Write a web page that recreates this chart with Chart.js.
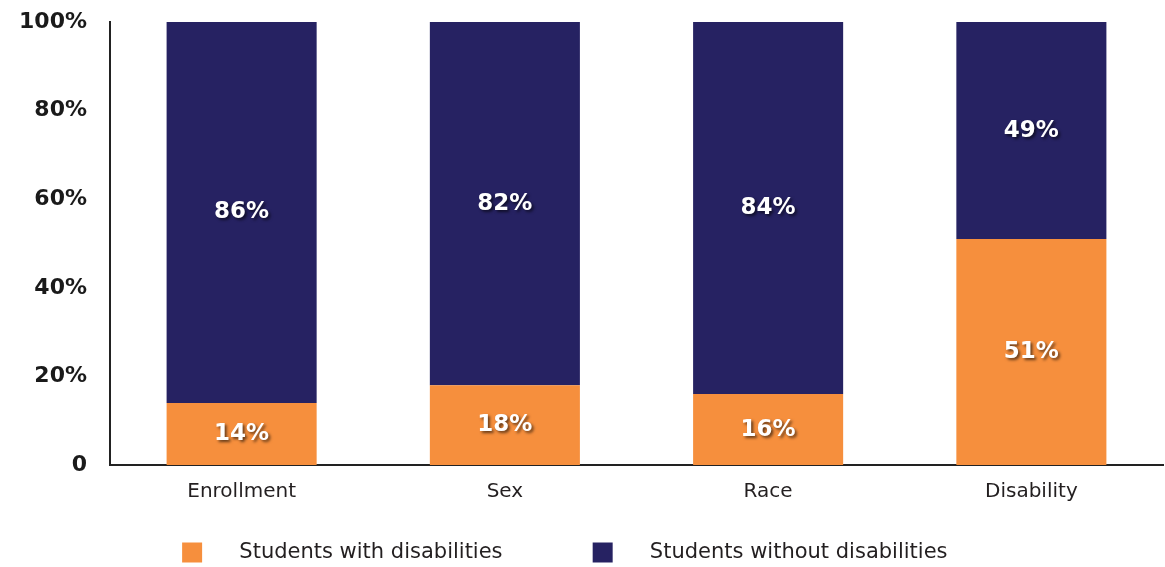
<!DOCTYPE html>
<html>
<head>
<meta charset="utf-8">
<script src="https://cdn.jsdelivr.net/npm/chart.js@4.4.1/dist/chart.umd.min.js"></script>
<style>
    html, body { margin: 0; padding: 0; background: #ffffff; }
    #wrap { width: 1165px; height: 567px; position: relative; }
</style>
</head>
<body>
<div id="wrap"><canvas id="chart"></canvas></div>
<script>
// DATA
let categories = ["Enrollment", "Sex", "Race", "Disability"];
let withDisabilities = [14, 18, 16, 51];
let withoutDisabilities = [86, 82, 84, 49];
let yTicks = [0, 20, 40, 60, 80, 100];

// labels in the middle of each bar piece
let barLabels = {
    id: "barLabels",
    afterDatasetsDraw(chart) {
        let ctx = chart.ctx;
        ctx.save();
        ctx.font = "bold 23px 'DejaVu Sans'";
        ctx.fillStyle = "#ffffff";
        ctx.textAlign = "center";
        ctx.textBaseline = "middle";
        ctx.shadowColor = "rgba(0,0,0,0.6)";
        ctx.shadowOffsetX = 2;
        ctx.shadowOffsetY = 2;
        ctx.shadowBlur = 3;
        chart.data.datasets.forEach((ds, i) => {
            chart.getDatasetMeta(i).data.forEach((bar, j) => {
                let mid = (bar.y + bar.base) / 2;
                ctx.fillText(ds.data[j] + "%", bar.x, mid);
            });
        });
        ctx.restore();
    }
};

function loadChart() {
    let ctx = document.getElementById("chart");

    new Chart(ctx, {
        type: "bar",
        data: {
            labels: categories,
            datasets: [
                {
                    label: "Students with disabilities",
                    data: withDisabilities,
                    backgroundColor: "#F68F3D"
                },
                {
                    label: "Students without disabilities",
                    data: withoutDisabilities,
                    backgroundColor: "#262262"
                }
            ]
        },
        options: {
            responsive: true,
            maintainAspectRatio: false,
            animation: false,
            layout: { padding: { top: 22, right: 2, bottom: -6, left: 0 } },
            datasets: {
                bar: { barPercentage: 0.57, categoryPercentage: 1 }
            },
            plugins: {
                tooltip: { enabled: false },
                legend: {
                    position: "bottom",
                    labels: {
                        boxWidth: 20,
                        boxHeight: 20,
                        padding: 10,
                        color: "#231f20",
                        font: { family: "'DejaVu Sans'", size: 21 },
                        generateLabels: chart => {
                            let items = Chart.defaults.plugins.legend.labels.generateLabels(chart);
                            // spacing like the original legend
                            items.forEach((it, i) => {
                                it.text = "    " + it.text + (i === 0 ? " ".repeat(12) : " ".repeat(5));
                            });
                            return items;
                        }
                    }
                }
            },
            scales: {
                x: {
                    stacked: true,
                    border: { display: true, color: "#222222", width: 2 },
                    grid: { display: false, drawTicks: false },
                    ticks: {
                        color: "#231f20",
                        padding: 15,
                        font: { family: "'DejaVu Sans'", size: 20 }
                    },
                    afterFit: s => { s.height = 67; }
                },
                y: {
                    stacked: true,
                    min: 0,
                    max: 100,
                    afterBuildTicks: s => { s.ticks = yTicks.map(v => ({ value: v })); },
                    border: { display: true, color: "#222222", width: 2 },
                    grid: { display: false, drawTicks: false },
                    ticks: {
                        color: "#1a1a1a",
                        padding: 23,
                        font: { family: "'DejaVu Sans'", size: 22, weight: "bold" },
                        callback: v => v === 0 ? "0" : v + "%"
                    },
                    afterFit: s => {
                        s.width = 110;
                        s.paddingTop = 0;
                        s.paddingBottom = 0;
                    }
                }
            }
        },
        plugins: [barLabels]
    });
}

window.onload = loadChart;
</script>
</body>
</html>
